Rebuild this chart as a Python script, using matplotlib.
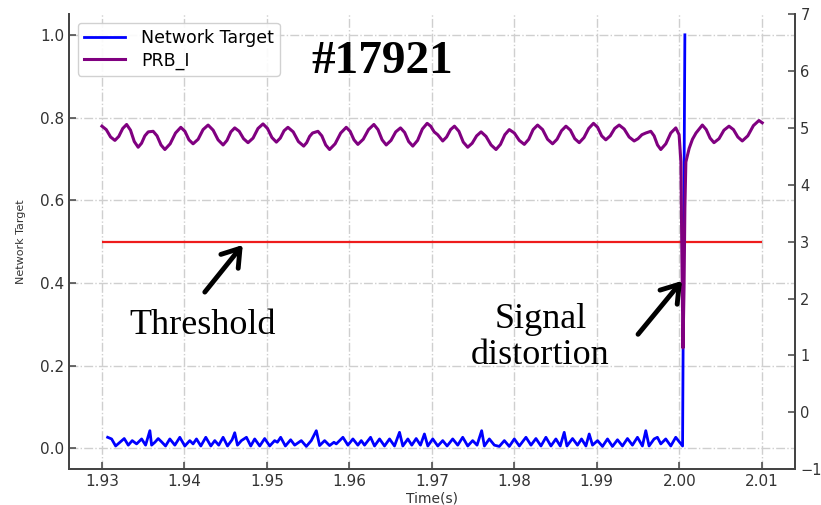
import matplotlib
matplotlib.use("Agg")
import matplotlib.pyplot as plt

# Network target output (left axis)
nt_t = [
    1.93069, 1.93117, 1.93166, 1.93218, 1.93270, 1.93319, 1.93367, 1.93420, 1.93481, 1.93529,
    1.93581, 1.93602, 1.93642, 1.93682, 1.93723, 1.93771, 1.93823, 1.93884, 1.93944, 1.94005,
    1.94065, 1.94105, 1.94146, 1.94199, 1.94259, 1.94320, 1.94368, 1.94416, 1.94469, 1.94522,
    1.94578, 1.94610, 1.94643, 1.94691, 1.94752, 1.94804, 1.94852, 1.94913, 1.94973, 1.95034,
    1.95094, 1.95127, 1.95167, 1.95224, 1.95288, 1.95337, 1.95417, 1.95478, 1.95538, 1.95599,
    1.95639, 1.95700, 1.95760, 1.95813, 1.95841, 1.95922, 1.95982, 1.96043, 1.96103, 1.96144,
    1.96184, 1.96257, 1.96305, 1.96366, 1.96426, 1.96487, 1.96547, 1.96608, 1.96648, 1.96709,
    1.96757, 1.96810, 1.96862, 1.96910, 1.96951, 1.97011, 1.97072, 1.97132, 1.97185, 1.97253,
    1.97314, 1.97374, 1.97435, 1.97495, 1.97548, 1.97604, 1.97637, 1.97697, 1.97758, 1.97818,
    1.97879, 1.97939, 1.98000, 1.98061, 1.98141, 1.98202, 1.98262, 1.98323, 1.98383, 1.98444,
    1.98504, 1.98557, 1.98605, 1.98638, 1.98706, 1.98766, 1.98815, 1.98868, 1.98908, 1.98948,
    1.99009, 1.99069, 1.99130, 1.99190, 1.99251, 1.99311, 1.99372, 1.99432, 1.99493, 1.99553,
    1.99594, 1.99634, 1.99695, 1.99735, 1.99776, 1.99836, 1.99897, 1.99957, 2.00040, 2.00068,
]
nt_v = [
    0.027, 0.023, 0.006, 0.015, 0.024, 0.008, 0.019, 0.011, 0.023, 0.008,
    0.043, 0.008, 0.015, 0.024, 0.016, 0.006, 0.023, 0.008, 0.027, 0.006,
    0.019, 0.011, 0.023, 0.006, 0.027, 0.006, 0.019, 0.008, 0.027, 0.006,
    0.021, 0.038, 0.008, 0.019, 0.027, 0.006, 0.023, 0.006, 0.024, 0.006,
    0.019, 0.015, 0.027, 0.006, 0.021, 0.008, 0.019, 0.005, 0.019, 0.043,
    0.007, 0.019, 0.007, 0.015, 0.011, 0.027, 0.008, 0.023, 0.008, 0.019,
    0.008, 0.027, 0.006, 0.023, 0.006, 0.023, 0.006, 0.039, 0.006, 0.023,
    0.008, 0.024, 0.008, 0.035, 0.006, 0.023, 0.006, 0.019, 0.006, 0.023,
    0.008, 0.027, 0.006, 0.019, 0.008, 0.043, 0.006, 0.023, 0.008, 0.005,
    0.019, 0.005, 0.023, 0.006, 0.027, 0.008, 0.024, 0.006, 0.027, 0.006,
    0.023, 0.006, 0.039, 0.006, 0.024, 0.008, 0.023, 0.006, 0.035, 0.008,
    0.019, 0.005, 0.023, 0.005, 0.021, 0.006, 0.024, 0.008, 0.027, 0.006,
    0.043, 0.006, 0.023, 0.027, 0.011, 0.023, 0.006, 0.027, 0.006, 1.000,
]

# PRB_I signal (right axis)
prb_t = [
    1.93000, 1.93052, 1.93105, 1.93157, 1.93204, 1.93252, 1.93299, 1.93346, 1.93392, 1.93439,
    1.93480, 1.93520, 1.93561, 1.93621, 1.93668, 1.93716, 1.93763, 1.93827, 1.93892, 1.93956,
    1.94006, 1.94055, 1.94105, 1.94166, 1.94226, 1.94287, 1.94348, 1.94408, 1.94469, 1.94516,
    1.94563, 1.94610, 1.94664, 1.94717, 1.94771, 1.94832, 1.94892, 1.94953, 1.95007, 1.95061,
    1.95115, 1.95162, 1.95208, 1.95255, 1.95319, 1.95382, 1.95446, 1.95482, 1.95518, 1.95554,
    1.95619, 1.95666, 1.95713, 1.95760, 1.95827, 1.95895, 1.95962, 1.96009, 1.96056, 1.96103,
    1.96168, 1.96232, 1.96297, 1.96347, 1.96397, 1.96447, 1.96505, 1.96562, 1.96620, 1.96670,
    1.96719, 1.96769, 1.96827, 1.96885, 1.96943, 1.96986, 1.97028, 1.97071, 1.97132, 1.97179,
    1.97227, 1.97274, 1.97328, 1.97381, 1.97435, 1.97489, 1.97543, 1.97597, 1.97657, 1.97718,
    1.97778, 1.97832, 1.97885, 1.97939, 1.98000, 1.98060, 1.98121, 1.98175, 1.98228, 1.98282,
    1.98343, 1.98403, 1.98464, 1.98518, 1.98572, 1.98626, 1.98680, 1.98733, 1.98787, 1.98845,
    1.98902, 1.98960, 1.99010, 1.99059, 1.99109, 1.99163, 1.99217, 1.99271, 1.99332, 1.99392,
    1.99453, 1.99500, 1.99547, 1.99594, 1.99655, 1.99695, 1.99736, 1.99776, 1.99837, 1.99897,
    1.99958, 1.99998, 2.00020, 2.00030, 2.00045, 2.00058, 2.00068, 2.00080, 2.00120, 2.00160,
    2.00203, 2.00280, 2.00327, 2.00374, 2.00421, 2.00482, 2.00542, 2.00603, 2.00657, 2.00710,
    2.00764, 2.00831, 2.00899, 2.00966, 2.01006,
]
prb_v = [
    5.03, 4.97, 4.84, 4.78, 4.85, 4.99, 5.06, 4.96, 4.76, 4.66,
    4.73, 4.86, 4.93, 4.94, 4.86, 4.70, 4.62, 4.72, 4.91, 5.01,
    4.94, 4.79, 4.72, 4.80, 4.97, 5.05, 4.96, 4.79, 4.70, 4.78,
    4.93, 5.00, 4.94, 4.81, 4.74, 4.82, 4.99, 5.07, 4.99, 4.83,
    4.75, 4.82, 4.95, 5.01, 4.93, 4.76, 4.68, 4.74, 4.85, 4.91,
    4.94, 4.86, 4.70, 4.62, 4.72, 4.91, 5.01, 4.94, 4.79, 4.71,
    4.80, 4.97, 5.06, 4.97, 4.79, 4.70, 4.78, 4.93, 5.00, 4.92,
    4.76, 4.68, 4.78, 4.98, 5.08, 5.03, 4.93, 4.88, 4.77, 4.84,
    4.97, 5.03, 4.94, 4.75, 4.66, 4.73, 4.86, 4.93, 4.85, 4.70,
    4.62, 4.71, 4.88, 4.97, 4.91, 4.78, 4.71, 4.80, 4.97, 5.05,
    4.97, 4.80, 4.72, 4.80, 4.95, 5.03, 4.96, 4.81, 4.74, 4.83,
    4.99, 5.08, 5.01, 4.86, 4.79, 4.86, 4.99, 5.05, 4.98, 4.84,
    4.77, 4.81, 4.88, 4.91, 4.94, 4.86, 4.70, 4.62, 4.72, 4.91,
    5.00, 4.88, 4.40, 3.00, 1.13, 2.20, 3.60, 4.40, 4.64, 4.80,
    4.91, 5.05, 4.97, 4.82, 4.74, 4.81, 4.96, 5.03, 4.97, 4.84,
    4.77, 4.86, 5.04, 5.13, 5.09,
]

threshold = 0.5
thr_span = [1.93, 2.01]
x_ticks = [1.93, 1.94, 1.95, 1.96, 1.97, 1.98, 1.99, 2.00, 2.01]
left_ticks = [0.0, 0.2, 0.4, 0.6, 0.8, 1.0]
right_ticks = [-1, 0, 1, 2, 3, 4, 5, 6, 7]

spine_col = "#444444"
tick_col = "#333333"

fig, ax = plt.subplots(figsize=(8.21, 5.05), dpi=100)
fig.subplots_adjust(left=0.084, right=0.968, bottom=0.071, top=0.972)

l1, = ax.plot(nt_t, nt_v, color="#0000ff", lw=2.0, label="Network Target")
ax.hlines(threshold, thr_span[0], thr_span[1], color="#ee1c1c", lw=1.6)

ax.set_xlim(1.926, 2.014)
ax.set_ylim(-0.05, 1.05)
ax.set_xticks(x_ticks)
ax.set_xticklabels([f"{v:.2f}" for v in x_ticks])
ax.set_yticks(left_ticks)
ax.set_yticklabels([f"{v:.1f}" for v in left_ticks])
ax.grid(True, ls="-.", color="#cfcfcf", lw=1.0)
ax.set_axisbelow(True)
ax.set_xlabel("Time(s)", fontsize=10, color=tick_col, labelpad=2)
ax.set_ylabel("Network Target", fontsize=8, color=tick_col, labelpad=10)

ax2 = ax.twinx()
l2, = ax2.plot(prb_t, prb_v, color="#800080", lw=2.2, label="PRB_I")
ax2.set_ylim(-1, 7)
ax2.set_yticks(right_ticks)

for a in (ax, ax2):
    a.spines["top"].set_visible(False)
    for s in ("left", "right", "bottom"):
        a.spines[s].set_color(spine_col)
        a.spines[s].set_linewidth(1.3)
    a.tick_params(direction="in", length=5, width=1.1, colors=spine_col,
                  labelcolor=tick_col, labelsize=11)
ax2.tick_params(axis="y", pad=4, labelsize=10.5)

ax2.legend([l1, l2], ["Network Target", "PRB_I"], loc="upper left",
           fontsize=12.5, frameon=True, fancybox=True, framealpha=0.9,
           edgecolor="#cccccc", borderaxespad=0.5, handlelength=2.4,
           handletextpad=0.9, labelspacing=0.25, borderpad=0.35)

# annotations drawn in left-axis data coordinates
arrow = dict(arrowstyle="->,head_length=0.6,head_width=0.4", lw=3.5,
             color="black", mutation_scale=20, shrinkA=0, shrinkB=0)
ax2.annotate("", xy=(1.94707, 0.492), xytext=(1.94247, 0.378),
             xycoords=ax.transData, textcoords=ax.transData, arrowprops=arrow)
ax2.annotate("", xy=(2.00033, 0.405), xytext=(1.99500, 0.276),
             xycoords=ax.transData, textcoords=ax.transData, arrowprops=arrow)

ax2.text(1.96402, 0.935, "#17921", transform=ax.transData, ha="center",
         va="center", family="Liberation Serif", weight="bold", fontsize=34)
ax2.text(1.94223, 0.298, "Threshold", transform=ax.transData, ha="center",
         va="center", family="Liberation Serif", fontsize=26)
ax2.text(1.98315, 0.268, "Signal\ndistortion", transform=ax.transData,
         ha="center", va="center", family="Liberation Serif", fontsize=26,
         linespacing=1.1)

fig.savefig("out.png", dpi=100)
